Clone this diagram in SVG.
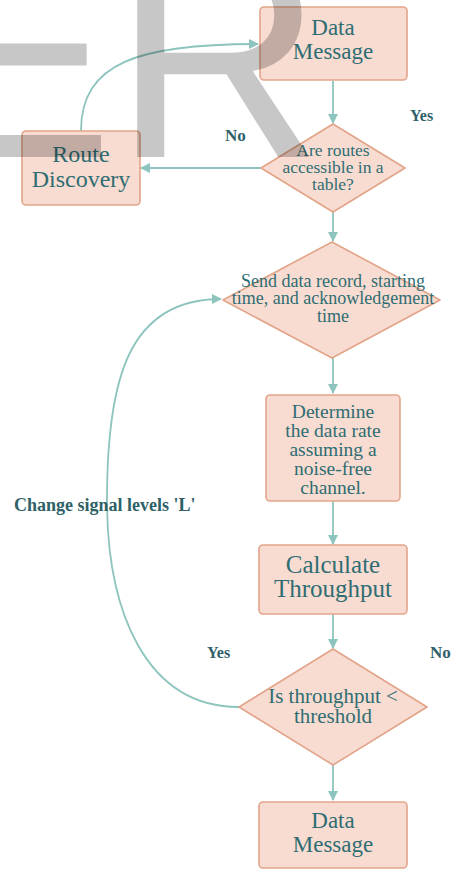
<svg xmlns="http://www.w3.org/2000/svg" width="452" height="871" viewBox="0 0 452 871">
<style>
.box{fill:#f8dcd1;stroke:#e2a489;stroke-width:1.6}
.t{font-family:"Liberation Serif",serif;fill:#2f6d73;text-anchor:middle}
.lbl{font-family:"Liberation Serif",serif;font-weight:bold;fill:#2e6168}
.c{fill:none;stroke:#8dc4bd;stroke-width:1.8}
</style>
<defs>
<marker id="ah" markerWidth="10" markerHeight="10" refX="9" refY="5" orient="auto" markerUnits="userSpaceOnUse">
<path d="M0,0 L10,5 L0,10 Z" fill="#8dc4bd"/>
</marker>
</defs>
<rect width="452" height="871" fill="#ffffff"/>
<g id="connectors">
<path class="c" d="M333,81 L333,123" marker-end="url(#ah)"/>
<path class="c" d="M261,168 L141,168" marker-end="url(#ah)"/>
<path class="c" d="M81,131 C81,62 140,44 258,44" marker-end="url(#ah)"/>
<path class="c" d="M333,212 L333,241" marker-end="url(#ah)"/>
<path class="c" d="M333,358 L333,393" marker-end="url(#ah)"/>
<path class="c" d="M333,501 L333,544" marker-end="url(#ah)"/>
<path class="c" d="M333,614 L333,648" marker-end="url(#ah)"/>
<path class="c" d="M333,765 L333,800" marker-end="url(#ah)"/>
<path class="c" d="M239,707 C145,707 107,610 107,500 C107,380 128,299 221,299" marker-end="url(#ah)"/>
</g>
<g id="n1">
<rect class="box" x="260" y="7" width="147" height="73" rx="4"/>
<text class="t" font-size="23" x="333" y="35">Data</text>
<text class="t" font-size="23" x="333" y="59">Message</text>
</g>
<g id="n2">
<path class="box" d="M333,124 L405,168 L333,212 L261,168 Z" stroke-linejoin="round"/>
<text class="t" font-size="17.5" x="333" y="156">Are routes</text>
<text class="t" font-size="17.5" x="333" y="173">accessible in a</text>
<text class="t" font-size="17.5" x="333" y="190">table?</text>
</g>
<g id="n3">
<rect class="box" x="22" y="131" width="118" height="74" rx="4"/>
<text class="t" font-size="24" x="81" y="162">Route</text>
<text class="t" font-size="24" x="81" y="187">Discovery</text>
</g>
<g id="n4">
<path class="box" d="M332,242 L440,300 L332,358 L223,300 Z" stroke-linejoin="round"/>
<text class="t" font-size="18" x="333" y="287">Send data record, starting</text>
<text class="t" font-size="18" x="333" y="304">time, and acknowledgement</text>
<text class="t" font-size="18" x="333" y="322">time</text>
</g>
<g id="n5">
<rect class="box" x="266" y="395" width="134" height="106" rx="4"/>
<text class="t" font-size="19.5" x="333" y="418">Determine</text>
<text class="t" font-size="19.5" x="333" y="437">the data rate</text>
<text class="t" font-size="19.5" x="333" y="456">assuming a</text>
<text class="t" font-size="19.5" x="333" y="475">noise-free</text>
<text class="t" font-size="19.5" x="333" y="494">channel.</text>
</g>
<g id="n6">
<rect class="box" x="259" y="545" width="148" height="69" rx="4"/>
<text class="t" font-size="25" x="333" y="573">Calculate</text>
<text class="t" font-size="25" x="333" y="597">Throughput</text>
</g>
<g id="n7">
<path class="box" d="M333,649 L427,707 L333,765 L239,707 Z" stroke-linejoin="round"/>
<text class="t" font-size="21" x="333" y="703">Is throughput &lt;</text>
<text class="t" font-size="21" x="333" y="723">threshold</text>
</g>
<g id="n8">
<rect class="box" x="259" y="802" width="148" height="66" rx="4"/>
<text class="t" font-size="23" x="333" y="828">Data</text>
<text class="t" font-size="23" x="333" y="852">Message</text>
</g>
<g id="labels">
<text class="lbl" font-size="16" x="410" y="121">Yes</text>
<text class="lbl" font-size="17" x="225" y="141">No</text>
<text class="lbl" font-size="18" x="14" y="511">Change signal levels 'L'</text>
<text class="lbl" font-size="16" x="207" y="658">Yes</text>
<text class="lbl" font-size="17" x="430" y="658">No</text>
</g>
<g id="watermark">
<text x="-80" y="157" font-family="Liberation Sans, sans-serif" font-size="290" fill="#000" fill-opacity="0.22">ER</text>
</g>
</svg>
